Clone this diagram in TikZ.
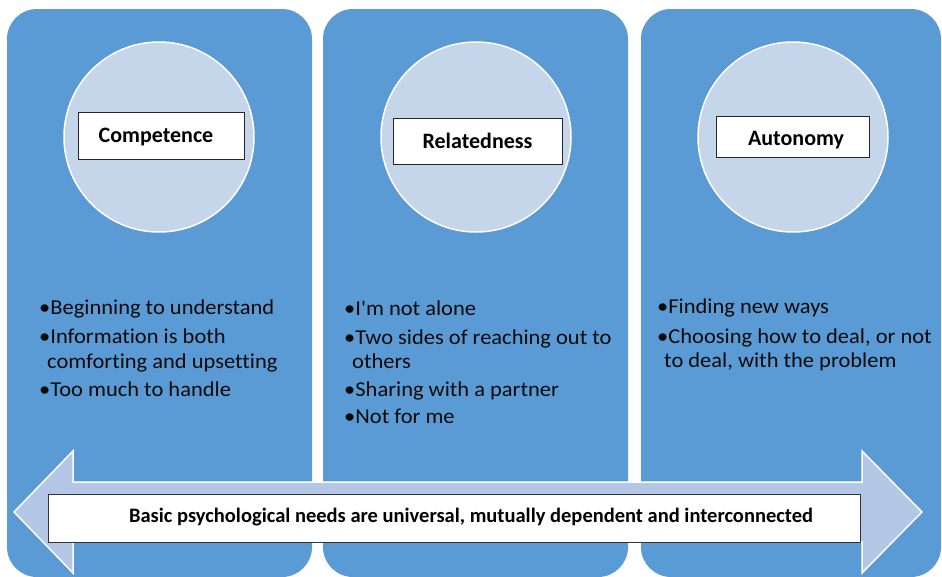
\documentclass[tikz,border=0pt]{standalone}
\usepackage{fontspec}
\setmainfont{Carlito}
\newfontfamily\bodyfont[FakeStretch=1.06,Ligatures=NoCommon]{Carlito}
\definecolor{panelblue}{HTML}{5B9BD5}
\definecolor{circlefill}{HTML}{C5D5EA}
\definecolor{arrowfill}{HTML}{B4C7E7}
\definecolor{inktext}{HTML}{0A0A0A}
\tikzset{
  panel/.style={fill=panelblue, draw=none, rounded corners=30pt},
  needcircle/.style={circle, fill=circlefill, draw=white, line width=1.5pt, minimum size=190pt, inner sep=0pt},
  labelbox/.style={rectangle, fill=white, draw=black!85, line width=0.9pt, inner sep=0pt, text height=14pt, text depth=0pt, font=\fontsize{22}{26}\selectfont\bfseries, text=black},
  bodyline/.style={anchor=base west, inner sep=0pt, font=\bodyfont\fontsize{21.2}{25}\selectfont, text=inktext},
  bigarrow/.style={fill=arrowfill, draw=white, line width=1.5pt, line join=miter},
  barbox/.style={rectangle, fill=white, draw=black!80, line width=0.9pt, inner sep=0pt, minimum width=812pt, minimum height=48pt},
  bartext/.style={inner sep=0pt, font=\fontsize{20.5}{24}\selectfont\bfseries, text=black}
}
\begin{document}
\begin{tikzpicture}[x=1pt,y=-1pt]
\useasboundingbox (0,0) rectangle (942,576);
\fill[white] (0,0) rectangle (942,576);
% panels
\path[panel] (7,9) rectangle (312,577);
\path[panel] (323,9) rectangle (628,577);
\path[panel] (641,9) rectangle (941,577);
% circles
\node[needcircle] (c1) at (159,137) {};
\node[needcircle] (c2) at (476,137) {};
\node[needcircle] (c3) at (793,137) {};
% label boxes
\node[labelbox, minimum width=166pt, minimum height=47pt] (l1) at (161,135.5) {\hspace*{-10pt}Competence};
\node[labelbox, minimum width=169pt, minimum height=46pt] (l2) at (477.5,141) {Relatedness};
\node[labelbox, minimum width=153pt, minimum height=41pt] (l3) at (792.5,136.5) {\hspace*{7pt}\raisebox{-1.5pt}{Autonomy}};
% panel 1 text
\node[bodyline] (p1a) at (39,314) {•Beginning to understand};
\node[bodyline] (p1b) at (39,343) {•Information is both};
\node[bodyline] (p1c) at (47,368) {comforting and upsetting};
\node[bodyline] (p1d) at (39,396) {•Too much to handle};
% panel 2 text
\node[bodyline] (p2a) at (344,315) {•I'm not alone};
\node[bodyline] (p2b) at (344,344) {•Two sides of reaching out to};
\node[bodyline] (p2c) at (352,368) {others};
\node[bodyline] (p2d) at (344,396) {•Sharing with a partner};
\node[bodyline] (p2e) at (344,423) {•Not for me};
% panel 3 text
\node[bodyline] (p3a) at (657,313) {•Finding new ways};
\node[bodyline] (p3b) at (657,343) {•Choosing how to deal, or not};
\node[bodyline] (p3c) at (664,367) {to deal, with the problem};
% double arrow
\draw[bigarrow] (14,512) -- (73,451) -- (73,482) -- (862,482) -- (862,451) -- (922,512)
  -- (862,573) -- (862,542) -- (73,542) -- (73,573) -- cycle;
\node[barbox] (bar) at (454,518) {};
\node[bartext] (bartxt) at (471,517) {Basic psychological needs are universal, mutually dependent and interconnected};
\end{tikzpicture}
\end{document}
